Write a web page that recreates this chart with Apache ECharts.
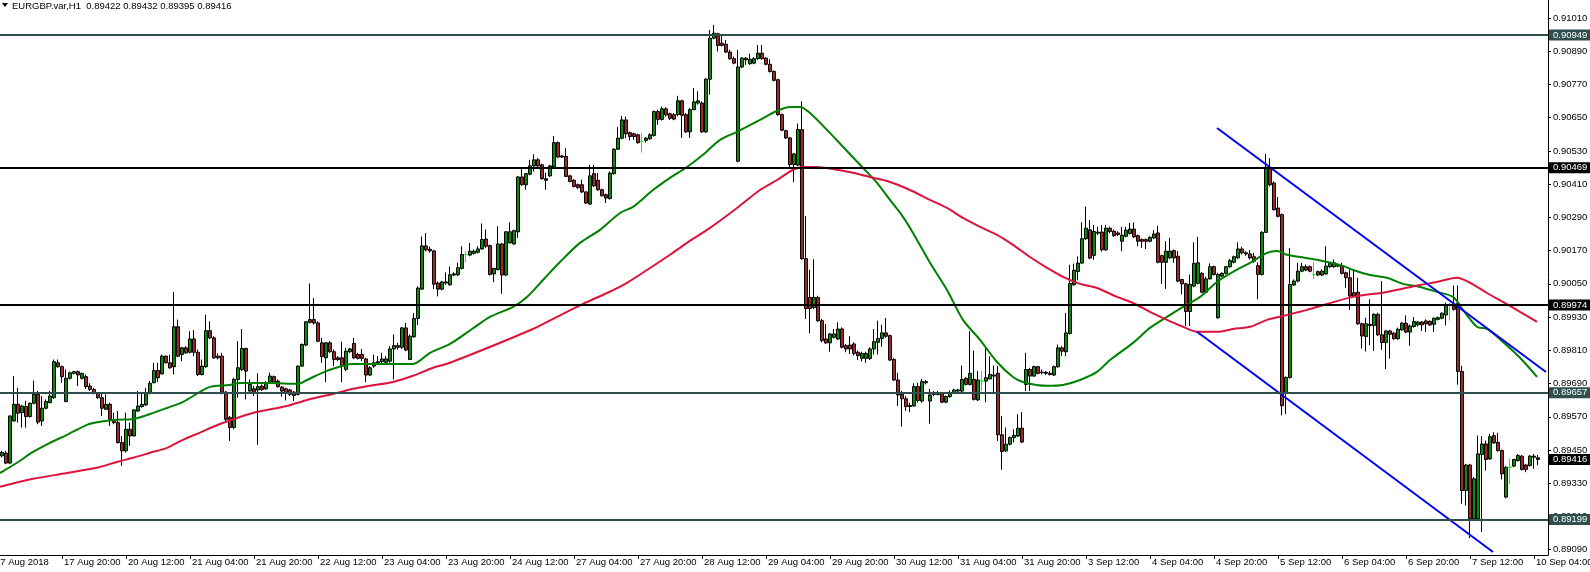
<!DOCTYPE html>
<html><head><meta charset="utf-8">
<script src="https://cdn.jsdelivr.net/npm/echarts@6/dist/echarts.min.js"></script>
<style>html,body{margin:0;padding:0;background:#fff;}#c{width:1590px;height:572px;}</style>
</head><body><div id="c"></div>
<script>
const symbolName = 'EURGBP.var,H1';
// bottom time labels, one every 16 hourly bars starting at bar 0 (17 Aug 04:00)
const xTickLabels = ['17 Aug 2018','17 Aug 20:00','20 Aug 12:00','21 Aug 04:00','21 Aug 20:00','22 Aug 12:00','23 Aug 04:00','23 Aug 20:00','24 Aug 12:00','27 Aug 04:00','27 Aug 20:00','28 Aug 12:00','29 Aug 04:00','29 Aug 20:00','30 Aug 12:00','31 Aug 04:00','31 Aug 20:00','3 Sep 12:00','4 Sep 04:00','4 Sep 20:00','5 Sep 12:00','6 Sep 04:00','6 Sep 20:00','7 Sep 12:00','10 Sep 04:00'];
const yTickValues = [0.89090,0.89210,0.89330,0.89450,0.89570,0.89690,0.89810,0.89930,0.90050,0.90170,0.90290,0.90410,0.90530,0.90650,0.90770,0.90890,0.91010];
// hourly candles from bar 1 (17 Aug 05:00): [open, close, low, high]
const candles = [
[0.89429,0.89441,0.89423,0.89447],[0.89439,0.89403,0.89399,0.89447],[0.89403,0.89573,0.89399,0.89575],[0.89555,0.89615,0.89553,0.89717],
[0.89615,0.89583,0.89549,0.89675],[0.89585,0.89609,0.89531,0.89613],[0.89607,0.89571,0.89531,0.89627],[0.89571,0.89619,0.89567,0.89621],
[0.89619,0.89651,0.89615,0.89701],[0.89651,0.89551,0.89543,0.89663],[0.89555,0.89601,0.89537,0.89645],[0.89601,0.89625,0.89597,0.89633],
[0.89621,0.89645,0.89619,0.89663],[0.89639,0.89769,0.89635,0.89777],[0.89765,0.89751,0.89747,0.89777],[0.89751,0.89715,0.89693,0.89755],
[0.89625,0.89709,0.89623,0.89741],[0.89709,0.89729,0.89705,0.89733],[0.89727,0.89733,0.89723,0.89735],[0.89733,0.89721,0.89681,0.89737],
[0.89709,0.89727,0.89705,0.89729],[0.89715,0.89679,0.89671,0.89723],[0.89681,0.89669,0.89663,0.89691],[0.89669,0.89657,0.89651,0.89675],
[0.89657,0.89639,0.89635,0.89659],[0.89639,0.89601,0.89573,0.89657],[0.89597,0.89615,0.89595,0.89651],[0.89615,0.89561,0.89537,0.89621],
[0.89559,0.89549,0.89543,0.89585],[0.89549,0.89477,0.89473,0.89591],[0.89477,0.89447,0.89393,0.89501],[0.89447,0.89525,0.89441,0.89585],
[0.89525,0.89501,0.89465,0.89549],[0.89501,0.89595,0.89499,0.89597],[0.89591,0.89609,0.89587,0.89663],[0.89607,0.89615,0.89603,0.89657],
[0.89613,0.89655,0.89609,0.89675],[0.89655,0.89691,0.89651,0.89699],[0.89693,0.89737,0.89691,0.89765],[0.89737,0.89711,0.89695,0.89765],
[0.89725,0.89789,0.89723,0.89795],[0.89789,0.89765,0.89763,0.89791],[0.89765,0.89747,0.89743,0.89795],[0.89751,0.89895,0.89723,0.90021],
[0.89895,0.89789,0.89785,0.89921],[0.89795,0.89819,0.89771,0.89823],[0.89819,0.89801,0.89797,0.89825],[0.89803,0.89851,0.89799,0.89879],
[0.89851,0.89803,0.89789,0.89883],[0.89803,0.89723,0.89717,0.89813],[0.89723,0.89753,0.89719,0.89777],[0.89751,0.89881,0.89747,0.89939],
[0.89881,0.89855,0.89851,0.89915],[0.89855,0.89783,0.89779,0.89861],[0.89789,0.89783,0.89777,0.89799],[0.89789,0.89659,0.89651,0.89801],
[0.89659,0.89561,0.89549,0.89663],[0.89567,0.89531,0.89483,0.89573],[0.89531,0.89705,0.89525,0.89711],[0.89705,0.89747,0.89639,0.89843],
[0.89741,0.89817,0.89735,0.89887],[0.89817,0.89735,0.89633,0.89819],[0.89663,0.89687,0.89657,0.89705],[0.89671,0.89659,0.89645,0.89681],
[0.89667,0.89679,0.89469,0.89727],[0.89681,0.89669,0.89663,0.89687],[0.89671,0.89693,0.89667,0.89699],[0.89695,0.89717,0.89693,0.89729],
[0.89715,0.89695,0.89691,0.89719],[0.89699,0.89679,0.89675,0.89705],[0.89677,0.89663,0.89643,0.89681],[0.89671,0.89657,0.89629,0.89675],
[0.89667,0.89651,0.89645,0.89671],[0.89659,0.89647,0.89627,0.89663],[0.89651,0.89753,0.89647,0.89755],[0.89753,0.89831,0.89751,0.89835],
[0.89829,0.89913,0.89825,0.89915],[0.89921,0.89911,0.89907,0.90051],[0.89921,0.89909,0.89903,0.89999],[0.89909,0.89843,0.89839,0.89915],
[0.89837,0.89787,0.89765,0.89855],[0.89783,0.89837,0.89695,0.89839],[0.89837,0.89805,0.89801,0.89843],[0.89805,0.89777,0.89753,0.89813],
[0.89783,0.89777,0.89771,0.89789],[0.89783,0.89753,0.89695,0.89841],[0.89741,0.89807,0.89735,0.89819],[0.89805,0.89815,0.89801,0.89819],
[0.89835,0.89783,0.89779,0.89855],[0.89795,0.89781,0.89777,0.89801],[0.89795,0.89781,0.89771,0.89815],[0.89779,0.89721,0.89695,0.89783],
[0.89721,0.89747,0.89717,0.89753],[0.89753,0.89765,0.89747,0.89795],[0.89765,0.89769,0.89759,0.89789],[0.89769,0.89779,0.89759,0.89801],
[0.89767,0.89779,0.89763,0.89789],[0.89771,0.89815,0.89765,0.89825],[0.89815,0.89827,0.89705,0.89867],[0.89827,0.89821,0.89813,0.89837],
[0.89821,0.89891,0.89815,0.89895],[0.89891,0.89811,0.89807,0.89909],[0.89777,0.89861,0.89775,0.89867],[0.89859,0.89925,0.89855,0.89945],
[0.89925,0.90035,0.89901,0.90041],[0.90031,0.90187,0.90029,0.90221],[0.90187,0.90173,0.90167,0.90233],[0.90175,0.90169,0.90163,0.90185],
[0.90169,0.90049,0.90031,0.90173],[0.90053,0.90031,0.90005,0.90059],[0.90031,0.90057,0.90027,0.90061],[0.90053,0.90057,0.90047,0.90091],
[0.90047,0.90083,0.90043,0.90113],[0.90082,0.90086,0.90078,0.90092],[0.90083,0.90108,0.90078,0.90126],[0.90106,0.90156,0.90102,0.90186],
[0.90156,0.90156,0.90128,0.90168],[0.90154,0.90168,0.90150,0.90198],[0.90160,0.90168,0.90156,0.90174],[0.90164,0.90176,0.90160,0.90186],
[0.90176,0.90210,0.90174,0.90268],[0.90212,0.90186,0.90180,0.90246],[0.90188,0.90084,0.90080,0.90192],[0.90086,0.90106,0.90056,0.90108],
[0.90102,0.90194,0.90098,0.90258],[0.90194,0.90082,0.90014,0.90198],[0.90082,0.90238,0.90078,0.90240],[0.90198,0.90238,0.90196,0.90272],
[0.90194,0.90242,0.90192,0.90246],[0.90238,0.90436,0.90216,0.90440],[0.90436,0.90408,0.90404,0.90464],[0.90408,0.90448,0.90390,0.90450],
[0.90446,0.90476,0.90442,0.90498],[0.90476,0.90498,0.90456,0.90518],[0.90498,0.90476,0.90472,0.90504],[0.90480,0.90430,0.90426,0.90484],
[0.90430,0.90424,0.90390,0.90452],[0.90440,0.90476,0.90436,0.90480],[0.90472,0.90560,0.90468,0.90584],[0.90560,0.90508,0.90504,0.90564],
[0.90512,0.90508,0.90504,0.90516],[0.90510,0.90438,0.90436,0.90540],[0.90440,0.90420,0.90416,0.90444],[0.90424,0.90402,0.90398,0.90428],
[0.90408,0.90398,0.90392,0.90412],[0.90408,0.90382,0.90378,0.90426],[0.90382,0.90342,0.90338,0.90384],[0.90338,0.90440,0.90336,0.90480],
[0.90448,0.90404,0.90400,0.90480],[0.90424,0.90390,0.90386,0.90450],[0.90390,0.90368,0.90366,0.90394],[0.90372,0.90360,0.90342,0.90376],
[0.90358,0.90450,0.90354,0.90456],[0.90448,0.90536,0.90444,0.90540],[0.90536,0.90576,0.90534,0.90616],[0.90576,0.90642,0.90572,0.90656],
[0.90642,0.90592,0.90576,0.90654],[0.90596,0.90582,0.90568,0.90600],[0.90592,0.90582,0.90570,0.90596],[0.90588,0.90560,0.90556,0.90592],
[0.90564,0.90564,0.90524,0.90594],[0.90568,0.90576,0.90560,0.90580],[0.90574,0.90588,0.90570,0.90594],[0.90586,0.90672,0.90582,0.90676],
[0.90672,0.90644,0.90624,0.90678],[0.90644,0.90682,0.90640,0.90690],[0.90682,0.90660,0.90654,0.90688],[0.90664,0.90648,0.90642,0.90668],
[0.90661,0.90645,0.90641,0.90667],[0.90661,0.90711,0.90655,0.90729],[0.90711,0.90659,0.90577,0.90715],[0.90661,0.90599,0.90595,0.90667],
[0.90599,0.90679,0.90577,0.90685],[0.90679,0.90707,0.90677,0.90757],[0.90703,0.90711,0.90697,0.90745],[0.90703,0.90599,0.90595,0.90709],
[0.90599,0.90789,0.90595,0.90793],[0.90789,0.90937,0.90733,0.90967],[0.90937,0.90955,0.90933,0.90985],[0.90953,0.90911,0.90889,0.90957],
[0.90919,0.90911,0.90907,0.90949],[0.90915,0.90887,0.90883,0.90931],[0.90887,0.90863,0.90859,0.90895],[0.90863,0.90847,0.90843,0.90871],
[0.90493,0.90833,0.90489,0.90895],[0.90833,0.90865,0.90829,0.90869],[0.90865,0.90859,0.90841,0.90869],[0.90845,0.90861,0.90841,0.90881],
[0.90847,0.90863,0.90843,0.90869],[0.90863,0.90883,0.90859,0.90913],[0.90883,0.90863,0.90859,0.90913],[0.90865,0.90843,0.90839,0.90869],
[0.90843,0.90817,0.90813,0.90861],[0.90817,0.90785,0.90781,0.90821],[0.90787,0.90661,0.90657,0.90791],[0.90661,0.90605,0.90601,0.90665],
[0.90603,0.90577,0.90573,0.90607],[0.90577,0.90481,0.90469,0.90581],[0.90481,0.90519,0.90417,0.90523],[0.90479,0.90607,0.90475,0.90629],
[0.90607,0.90141,0.90137,0.90709],[0.90141,0.89961,0.89923,0.90295],[0.90001,0.89961,0.89871,0.90101],[0.89965,0.90001,0.89959,0.90139],
[0.90001,0.89917,0.89913,0.90007],[0.89917,0.89845,0.89839,0.89923],[0.89851,0.89837,0.89833,0.89905],[0.89837,0.89869,0.89805,0.89873],
[0.89857,0.89869,0.89853,0.89887],[0.89851,0.89887,0.89847,0.89911],[0.89887,0.89821,0.89817,0.89893],[0.89827,0.89815,0.89803,0.89833],
[0.89829,0.89815,0.89797,0.89861],[0.89833,0.89799,0.89791,0.89839],[0.89803,0.89791,0.89775,0.89809],[0.89781,0.89799,0.89770,0.89805],
[0.89781,0.89799,0.89765,0.89805],[0.89781,0.89815,0.89775,0.89821],[0.89815,0.89841,0.89795,0.89887],[0.89839,0.89853,0.89795,0.89917],
[0.89853,0.89873,0.89823,0.89903],[0.89873,0.89861,0.89855,0.89927],[0.89863,0.89775,0.89771,0.89867],[0.89777,0.89703,0.89699,0.89783],
[0.89703,0.89649,0.89609,0.89729],[0.89651,0.89635,0.89535,0.89663],[0.89635,0.89607,0.89591,0.89645],[0.89611,0.89607,0.89587,0.89621],
[0.89609,0.89679,0.89607,0.89691],[0.89679,0.89629,0.89621,0.89693],[0.89627,0.89697,0.89621,0.89707],[0.89697,0.89693,0.89687,0.89703],
[0.89627,0.89649,0.89545,0.89671],[0.89655,0.89651,0.89645,0.89663],[0.89651,0.89655,0.89647,0.89663],[0.89655,0.89623,0.89619,0.89659],
[0.89623,0.89643,0.89619,0.89647],[0.89643,0.89657,0.89639,0.89665],[0.89657,0.89667,0.89655,0.89671],[0.89663,0.89667,0.89657,0.89671],
[0.89663,0.89705,0.89659,0.89755],[0.89709,0.89687,0.89683,0.89713],[0.89687,0.89727,0.89683,0.89879],[0.89705,0.89633,0.89629,0.89809],
[0.89631,0.89703,0.89627,0.89735],[0.89699,0.89699,0.89663,0.89735],[0.89699,0.89711,0.89623,0.89823],[0.89707,0.89723,0.89705,0.89789],
[0.89717,0.89721,0.89657,0.89755],[0.89727,0.89505,0.89483,0.89753],[0.89505,0.89445,0.89379,0.89573],[0.89447,0.89471,0.89443,0.89531],
[0.89471,0.89495,0.89467,0.89499],[0.89495,0.89503,0.89477,0.89525],[0.89501,0.89529,0.89497,0.89579],[0.89529,0.89479,0.89475,0.89587],
[0.89687,0.89741,0.89663,0.89801],[0.89741,0.89717,0.89663,0.89747],[0.89717,0.89751,0.89715,0.89755],[0.89751,0.89727,0.89723,0.89753],
[0.89729,0.89731,0.89723,0.89741],[0.89731,0.89727,0.89721,0.89735],[0.89723,0.89727,0.89719,0.89735],[0.89721,0.89751,0.89717,0.89755],
[0.89751,0.89819,0.89747,0.89831],[0.89819,0.89807,0.89789,0.89825],[0.89805,0.89873,0.89789,0.89945],[0.89871,0.90051,0.89867,0.90119],
[0.90047,0.90099,0.90043,0.90123],[0.90095,0.90125,0.90063,0.90149],[0.90125,0.90213,0.90123,0.90273],[0.90213,0.90251,0.90209,0.90329],
[0.90245,0.90143,0.90139,0.90281],[0.90153,0.90239,0.90137,0.90263],[0.90233,0.90237,0.90227,0.90257],[0.90237,0.90173,0.90167,0.90263],
[0.90173,0.90251,0.90169,0.90263],[0.90251,0.90239,0.90233,0.90257],[0.90240,0.90224,0.90220,0.90246],[0.90234,0.90228,0.90222,0.90240],
[0.90204,0.90226,0.90168,0.90256],[0.90222,0.90244,0.90218,0.90256],[0.90232,0.90248,0.90228,0.90270],[0.90248,0.90220,0.90216,0.90272],
[0.90224,0.90204,0.90186,0.90228],[0.90210,0.90204,0.90180,0.90214],[0.90210,0.90204,0.90176,0.90214],[0.90204,0.90218,0.90200,0.90222],
[0.90216,0.90230,0.90212,0.90244],[0.90234,0.90128,0.90124,0.90260],[0.90152,0.90128,0.90050,0.90156],[0.90128,0.90168,0.90032,0.90204],
[0.90144,0.90168,0.90140,0.90216],[0.90170,0.90144,0.90126,0.90174],[0.90150,0.90060,0.90056,0.90168],[0.90066,0.90050,0.90012,0.90068],
[0.90050,0.89950,0.89898,0.90054],[0.89950,0.90048,0.89898,0.90084],[0.90042,0.90124,0.90038,0.90200],[0.90052,0.90126,0.90048,0.90220],
[0.90088,0.90020,0.90016,0.90092],[0.90020,0.90068,0.90016,0.90076],[0.90068,0.90112,0.90066,0.90124],[0.90112,0.90084,0.90080,0.90116],
[0.89928,0.90084,0.89924,0.90090],[0.90078,0.90088,0.90074,0.90092],[0.90088,0.90112,0.90084,0.90114],[0.90112,0.90134,0.90108,0.90140],
[0.90128,0.90148,0.90124,0.90152],[0.90144,0.90176,0.90140,0.90200],[0.90176,0.90162,0.90156,0.90184],[0.90158,0.90162,0.90152,0.90168],
[0.90158,0.90144,0.90138,0.90172],[0.90148,0.90132,0.90126,0.90162],[0.90116,0.90084,0.89994,0.90128],[0.90084,0.90236,0.90080,0.90240],
[0.90236,0.90468,0.90234,0.90520],[0.90468,0.90408,0.90402,0.90504],[0.90414,0.90318,0.90314,0.90420],[0.90324,0.90294,0.90290,0.90364],
[0.90300,0.89610,0.89575,0.90304],[0.89658,0.89712,0.89580,0.89716],[0.89712,0.90048,0.89708,0.90180],[0.90046,0.90060,0.90042,0.90066],
[0.90060,0.90096,0.90056,0.90126],[0.90096,0.90112,0.90092,0.90126],[0.90112,0.90100,0.90096,0.90120],[0.90112,0.90096,0.90092,0.90116],
[0.90084,0.90084,0.90068,0.90128],[0.90094,0.90082,0.90078,0.90098],[0.90082,0.90096,0.90078,0.90102],[0.90086,0.90114,0.90084,0.90186],
[0.90112,0.90124,0.90108,0.90128],[0.90112,0.90126,0.90108,0.90138],[0.90120,0.90114,0.90110,0.90124],[0.90114,0.90088,0.90084,0.90126],
[0.90090,0.90072,0.90036,0.90094],[0.90072,0.90006,0.89956,0.90102],[0.90018,0.90006,0.90002,0.90102],[0.90020,0.89906,0.89902,0.90072],
[0.89906,0.89862,0.89816,0.89910],[0.89860,0.89906,0.89806,0.89928],[0.89904,0.89900,0.89828,0.89994],[0.89900,0.89940,0.89808,0.89944],
[0.89940,0.89866,0.89862,0.89946],[0.89866,0.89838,0.89812,0.90060],[0.89838,0.89880,0.89742,0.89884],[0.89880,0.89868,0.89780,0.89884],
[0.89872,0.89852,0.89848,0.89876],[0.89852,0.89886,0.89848,0.89892],[0.89884,0.89908,0.89880,0.89912],[0.89908,0.89876,0.89872,0.89936],
[0.89876,0.89898,0.89826,0.89903],[0.89896,0.89914,0.89892,0.89930],[0.89902,0.89912,0.89896,0.89916],[0.89912,0.89902,0.89880,0.89916],
[0.89916,0.89906,0.89876,0.89922],[0.89915,0.89902,0.89898,0.89918],[0.89904,0.89926,0.89876,0.89928],[0.89922,0.89928,0.89918,0.89932],
[0.89926,0.89944,0.89922,0.89947],[0.89938,0.89974,0.89900,0.89982],[0.89974,0.89974,0.89918,0.89982],[0.89970,0.89958,0.89954,0.90044],
[0.89980,0.89734,0.89686,0.90044],[0.89734,0.89304,0.89256,0.89754],[0.89304,0.89396,0.89250,0.89400],[0.89396,0.89202,0.89132,0.89400],
[0.89202,0.89346,0.89198,0.89352],[0.89202,0.89436,0.89198,0.89502],[0.89434,0.89472,0.89154,0.89500],[0.89472,0.89416,0.89376,0.89484],
[0.89418,0.89498,0.89414,0.89508],[0.89502,0.89476,0.89472,0.89514],[0.89478,0.89448,0.89444,0.89512],[0.89448,0.89364,0.89344,0.89452],
[0.89280,0.89388,0.89276,0.89392],[0.89388,0.89388,0.89326,0.89420],[0.89392,0.89416,0.89388,0.89418],[0.89412,0.89430,0.89408,0.89436],
[0.89428,0.89380,0.89376,0.89432],[0.89396,0.89380,0.89370,0.89400],[0.89394,0.89428,0.89390,0.89432],[0.89424,0.89428,0.89382,0.89436],
[0.89422,0.89416,0.89395,0.89432]
];
// moving averages: [bar number, price]
const maGreen = [[0.5,0.89367],[4.75,0.89404],[8.75,0.89443],[13,0.89476],[17.25,0.89505],[22.25,0.89541],[25.5,0.89552],[29.75,0.89559],[33.75,0.89562],[38,0.89580],[42.25,0.89602],[46.25,0.89624],[50.5,0.89660],[53,0.89678],[58,0.89685],[60.5,0.89692],[68,0.89692],[75,0.89689],[77.25,0.89703],[82.25,0.89736],[88.75,0.89761],[103.75,0.89761],[108,0.89801],[113,0.89833],[118.5,0.89887],[123,0.89931],[128.75,0.89967],[132.25,0.90003],[136.25,0.90064],[140.5,0.90129],[145.5,0.90198],[150.5,0.90245],[155.5,0.90306],[158.75,0.90328],[163.75,0.90389],[168,0.90433],[172.25,0.90472],[176.25,0.90516],[180.5,0.90570],[184.75,0.90599],[190.5,0.90642],[194.75,0.90675],[198,0.90689],[200.5,0.90689],[203,0.90667],[207.25,0.90606],[211.25,0.90545],[215.5,0.90480],[219.75,0.90415],[223,0.90353],[226.25,0.90292],[228.75,0.90234],[233,0.90126],[237.25,0.90028],[241.25,0.89920],[245.5,0.89848],[249.75,0.89768],[253.75,0.89714],[256.25,0.89696],[262.25,0.89682],[266.25,0.89685],[270.5,0.89703],[274.75,0.89732],[278,0.89775],[283.75,0.89837],[288,0.89891],[292.25,0.89931],[296.25,0.89967],[300.5,0.90003],[304.75,0.90057],[308.75,0.90093],[313,0.90126],[317.25,0.90162],[319.75,0.90169],[322.25,0.90155],[325.5,0.90147],[329.75,0.90137],[336.25,0.90115],[338.75,0.90100],[343,0.90082],[347.25,0.90072],[351.25,0.90050],[355.5,0.90039],[359.75,0.90021],[363.75,0.90003],[366.25,0.89956],[369.75,0.89895],[372.25,0.89887],[376.25,0.89840],[380.5,0.89783],[384.75,0.89714]];
const maRed = [[0.5,0.89317],[8.75,0.89346],[17.25,0.89367],[25.5,0.89389],[29.75,0.89407],[33.75,0.89422],[38,0.89440],[42.25,0.89458],[46.25,0.89487],[50.5,0.89513],[55.5,0.89544],[63.75,0.89584],[72.25,0.89609],[77.25,0.89631],[84.75,0.89656],[88.75,0.89671],[93,0.89682],[98.75,0.89696],[103.75,0.89718],[108.75,0.89747],[113,0.89765],[133.75,0.89887],[139.75,0.89931],[146.25,0.89978],[152.25,0.90017],[157.25,0.90054],[162.25,0.90100],[168,0.90155],[172.25,0.90198],[178,0.90252],[184.75,0.90324],[190.5,0.90389],[194.75,0.90425],[198.75,0.90462],[201.25,0.90472],[204.75,0.90472],[208.75,0.90465],[213.75,0.90451],[218.75,0.90433],[223,0.90418],[228,0.90389],[233,0.90353],[237.25,0.90324],[241.25,0.90288],[245.5,0.90256],[249.75,0.90227],[253.75,0.90191],[258,0.90147],[262.25,0.90108],[266.25,0.90075],[270.5,0.90050],[274.75,0.90035],[279.75,0.90003],[283.75,0.89981],[288,0.89949],[292.25,0.89920],[296.25,0.89895],[299.75,0.89877],[304.75,0.89877],[308.75,0.89887],[313,0.89895],[317.25,0.89920],[321.25,0.89934],[327.25,0.89956],[330.5,0.89970],[338.75,0.90003],[347.25,0.90021],[355.5,0.90046],[359.75,0.90057],[364.75,0.90072],[368,0.90054],[372.25,0.90017],[376.25,0.89985],[380.5,0.89949],[384.75,0.89913]];
// blue trend lines: [bar number, price]
const trendUpper = [[304.75,0.90613],[387,0.89732]];
const trendLower = [[299.75,0.89877],[373.75,0.89082]];
// horizontal levels
const levelsSlate = [0.90949,0.89657,0.89199];
const levelsBlack = [0.90469,0.89974];

const FONT = "'Liberation Sans', Arial, sans-serif";
const fmt = v => v.toFixed(5);
const lastBar = candles[candles.length - 1];
const header = symbolName + '  ' + fmt(lastBar[0]) + ' ' + fmt(lastBar[3]) + ' ' + fmt(lastBar[2]) + ' ' + fmt(lastBar[1]);

// categories are bars 1..387 (bar 0 sits just left of the visible area)
const nCats = 387;
const cats = [];
for (let i = 1; i <= nCats; i++) cats.push(String(i));
// the first label belongs to bar 0, which lies one bar left of bar 1: pull its text left
cats[0] = { value: '1', textStyle: { align: 'left', padding: [0, 0, 0, -7] } };
const candleData = candles.map((c, k) => [k, c[0], c[1], c[2], c[3]]);
const labelIdx = (idx) => { const bar = idx + 1; return bar % 16 === 0 && bar / 16 < xTickLabels.length; };

function levelItem(v, color) {
  return {
    yAxis: v,
    lineStyle: { color: color, width: 2, type: 'solid' },
    label: {
      show: true, position: 'end', distance: 1, formatter: fmt(v),
      color: '#fff', backgroundColor: color, padding: [1, 3, 0, 4],
      fontFamily: FONT, fontSize: 9.5, lineHeight: 10
    }
  };
}

const chart = echarts.init(document.getElementById('c'), null, { renderer: 'canvas' });
chart.setOption({
  animation: false,
  backgroundColor: '#ffffff',
  title: {
    text: header, left: 12, top: 1, padding: 0,
    textStyle: { fontFamily: FONT, fontSize: 9.5, fontWeight: 'normal', color: '#000' }
  },
  graphic: [
    { type: 'polygon', shape: { points: [[2, 3], [8, 3], [5, 7]] }, style: { fill: '#000' } }
  ],
  grid: { left: 0, right: 42, top: 0, bottom: 17, containLabel: false, outerBoundsMode: 'none' },
  xAxis: [
    {
      type: 'category', data: cats, boundaryGap: true,
      axisLine: { show: true, lineStyle: { color: '#000', width: 1 } },
      axisTick: { show: true, interval: (i) => labelIdx(i), alignWithLabel: true, length: 4, lineStyle: { color: '#000' } },
      axisLabel: {
        show: true, interval: (i) => i === 0 || labelIdx(i), align: 'left', margin: 2, padding: [0, 0, 0, 2],
        formatter: (v, i) => i === 0 ? xTickLabels[0] : (xTickLabels[(i + 1) / 16] || ''),
        fontFamily: FONT, fontSize: 9.5, color: '#000'
      },
      splitLine: { show: false }
    },
    { type: 'value', min: 0.5, max: nCats + 0.5, show: false }
  ],
  yAxis: {
    type: 'value', position: 'right', min: 0.89071, max: 0.91075,
    axisLine: { show: true, onZero: false, lineStyle: { color: '#000', width: 1 } },
    axisTick: { show: true, inside: false, length: 3, customValues: yTickValues, lineStyle: { color: '#000' } },
    axisLabel: { show: true, customValues: yTickValues, formatter: v => fmt(v), margin: 5, fontFamily: FONT, fontSize: 9.5, color: '#000' },
    splitLine: { show: false }
  },
  series: [
    {
      type: 'candlestick', xAxisIndex: 0, yAxisIndex: 0, barWidth: 3,
      data: candleData, encode: { x: 0, y: [1, 2, 3, 4] },
      itemStyle: { color: '#0a8a0a', color0: '#a1262a', borderColor: '#000', borderColor0: '#000', borderColorDoji: '#00ff00', borderWidth: 1 },
      z: 2, silent: true
    },
    { type: 'line', name: 'maGreen', xAxisIndex: 1, data: maGreen, showSymbol: false, smooth: 0.3, lineStyle: { color: '#008000', width: 2 }, z: 3, silent: true },
    { type: 'line', name: 'maRed', xAxisIndex: 1, data: maRed, showSymbol: false, smooth: 0.3, lineStyle: { color: '#dc143c', width: 2 }, z: 3, silent: true },
    { type: 'line', name: 'trendUpper', xAxisIndex: 1, data: trendUpper, showSymbol: false, lineStyle: { color: '#0000ff', width: 2 }, z: 4, silent: true },
    { type: 'line', name: 'trendLower', xAxisIndex: 1, data: trendLower, showSymbol: false, lineStyle: { color: '#0000ff', width: 2 }, z: 4, silent: true },
    {
      type: 'line', name: 'levels', xAxisIndex: 1, data: [], z: 5, silent: true,
      markLine: {
        silent: true, symbol: ['none', 'none'], animation: false, precision: 5,
        data: levelsSlate.map(v => levelItem(v, '#2f4f4f'))
          .concat(levelsBlack.map(v => levelItem(v, '#000000')))
          .concat([Object.assign(levelItem(lastBar[1], '#000000'), { lineStyle: { color: 'rgba(0,0,0,0)', width: 0 } })])
      }
    }
  ]
});
</script>
</body></html>
